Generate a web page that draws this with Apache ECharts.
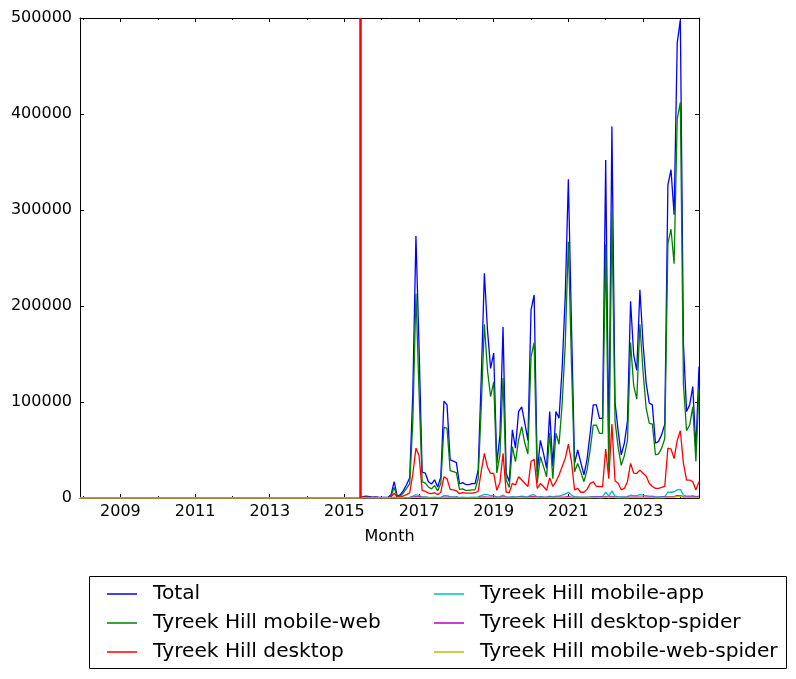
<!DOCTYPE html>
<html>
<head>
<meta charset="utf-8">
<script src="https://cdn.jsdelivr.net/npm/echarts@6/dist/echarts.min.js"></script>
<style>
  html, body { margin: 0; padding: 0; background: #fff; }
  #main { width: 796px; height: 679px; }
</style>
</head>
<body>
<div id="main"></div>
<script>
// months before the pageview series: all zero
var legacyMonths = ['2007-12', '2015-06'];
// pageview months: 2015-07 .. 2024-07
var firstMonth = '2015-07';
var monthCount = 109;
var markerMonth = '2015-06';

var majorYears = [2009, 2011, 2013, 2015, 2017, 2019, 2021, 2023];
var minorYears = [2008, 2010, 2012, 2014, 2016, 2018, 2020, 2022, 2024];
var yTicks = [0, 100000, 200000, 300000, 400000, 500000];

var total = [
  1500, 2000, 1500, 1000, 1200, 800,
  700, 600, 800, 3500, 17000, 1800, 3500, 8000, 14000, 21000, 110000, 273000,
  157000, 27000, 26000, 17000, 14500, 19000, 11500, 22000, 101000, 97000, 39600, 38500,
  36800, 14600, 16000, 14000, 14000, 15000, 15000, 29000, 125000, 234000, 175000, 135000,
  151000, 36000, 65000, 178000, 26000, 17000, 71000, 52000, 90000, 95000, 78000, 60000,
  196000, 211500, 27000, 60000, 46500, 31000, 90000, 33000, 90000, 83000, 135000, 210000,
  332000, 180000, 36000, 50000, 37000, 24000, 40000, 67000, 97000, 97000, 83000, 83000,
  352000, 50000, 387000, 100000, 70000, 45000, 57000, 80000, 205000, 149000, 133000, 217000,
  161500, 120000, 99000, 97000, 57000, 59000, 66000, 77000, 326000, 342000, 295000, 474000,
  498000, 160000, 90000, 97000, 116000, 50000, 137000
];
var mobileWeb = [
  600, 900, 700, 500, 600, 400,
  300, 250, 350, 2000, 11000, 1000, 2200, 5500, 10000, 15000, 80000, 213000,
  110000, 17000, 15500, 11500, 9500, 13000, 7500, 15000, 73600, 72600, 28500, 27500,
  26400, 9000, 9500, 8000, 8000, 8500, 8500, 20000, 95000, 181000, 133000, 105500,
  121000, 26000, 45000, 125000, 18700, 11000, 53500, 37800, 60400, 74300, 57000, 45800,
  147000, 161800, 16000, 43000, 33000, 22000, 68000, 20000, 67400, 56000, 98000, 160000,
  267000, 140000, 27400, 36000, 27000, 17000, 29000, 50000, 76000, 76000, 67400, 67400,
  264000, 27000, 298000, 80000, 53000, 34000, 44000, 60000, 162000, 117000, 103000, 181000,
  132000, 94000, 78000, 77000, 45000, 46000, 52000, 62000, 265000, 280000, 244000, 395000,
  412000, 118000, 70000, 76000, 95000, 38000, 113000
];
var desktop = [
  800, 1000, 700, 450, 550, 350,
  350, 300, 400, 1300, 5000, 700, 1100, 2200, 3500, 5500, 25000, 52000,
  44000, 8000, 7000, 5000, 4500, 5500, 3500, 6000, 22000, 20000, 9000, 8500,
  7500, 4500, 5500, 5000, 5000, 5000, 5500, 7000, 28000, 46500, 32000, 25700,
  25700, 8000, 16000, 46500, 6000, 5500, 15300, 13500, 22200, 18700, 15300, 11800,
  38000, 40300, 10000, 15000, 12000, 8000, 21000, 12000, 17000, 24000, 32600, 41300,
  56000, 38000, 8300, 10000, 6000, 6000, 9000, 15000, 17000, 12000, 12000, 11500,
  51000, 20000, 77000, 18000, 15300, 8500, 10000, 17000, 36000, 26000, 25700, 29000,
  25700, 23000, 15300, 12000, 10000, 10000, 11000, 12000, 52000, 51000, 41000, 60000,
  70000, 36000, 18700, 18700, 17000, 8300, 17000
];
var mobileApp = [
  100, 100, 100, 50, 50, 50,
  50, 50, 50, 100, 600, 100, 150, 300, 400, 700, 2000, 3500,
  2500, 1200, 1200, 800, 700, 800, 600, 900, 2500, 2500, 1500, 1200,
  1200, 700, 800, 700, 700, 800, 800, 1200, 2500, 3800, 3500, 2500,
  2500, 1200, 1500, 3000, 1000, 800, 1500, 1200, 1500, 2000, 1500, 1200,
  3000, 3500, 1000, 1500, 1200, 1000, 2000, 1200, 2000, 2000, 3000, 4000,
  6000, 3000, 1200, 1200, 1000, 1000, 1000, 1200, 1500, 1500, 1500, 1500,
  6000, 2000, 7500, 2000, 1500, 1200, 1200, 1500, 3000, 2500, 2500, 3500,
  3000, 2500, 2000, 2000, 1200, 1200, 1500, 1500, 6000, 6000, 6500, 8500,
  9000, 3000, 2000, 2000, 2500, 1500, 2000
];
var desktopSpider = [
  200, 200, 200, 200, 200, 200,
  200, 200, 200, 300, 500, 300, 300, 300, 400, 500, 800, 1500,
  1200, 600, 500, 400, 400, 400, 400, 400, 800, 800, 500, 500,
  500, 400, 400, 400, 400, 400, 400, 500, 900, 1200, 1000, 800,
  1000, 600, 700, 1200, 600, 500, 700, 600, 800, 800, 700, 600,
  1500, 1500, 700, 800, 700, 600, 900, 700, 900, 900, 1000, 1200,
  1500, 1000, 700, 700, 700, 600, 700, 800, 800, 800, 800, 800,
  1500, 800, 1800, 800, 700, 700, 700, 800, 1000, 900, 900, 1000,
  1000, 900, 800, 800, 700, 700, 800, 800, 1500, 1500, 1500, 2500,
  2500, 1200, 1000, 1000, 1200, 800, 1000
];
var mobileWebSpider = [
  50, 50, 50, 50, 50, 50,
  50, 50, 50, 80, 200, 80, 80, 100, 120, 150, 300, 500,
  400, 150, 150, 120, 100, 120, 100, 120, 250, 250, 150, 150,
  150, 100, 100, 100, 100, 100, 100, 150, 300, 500, 400, 300,
  400, 150, 200, 400, 150, 120, 200, 150, 250, 250, 200, 150,
  500, 500, 150, 200, 150, 150, 250, 150, 250, 250, 300, 400,
  700, 400, 200, 200, 150, 150, 200, 250, 300, 300, 250, 250,
  800, 250, 900, 300, 250, 200, 200, 250, 500, 400, 400, 500,
  500, 400, 300, 300, 200, 200, 250, 300, 1000, 1000, 900, 1500,
  1800, 600, 400, 400, 500, 300, 500
];

// 'YYYY-MM' -> decimal year
function toYear(m) {
  var p = m.split('-');
  return +p[0] + (+p[1] - 1) / 12;
}

var months = [];
(function () {
  var y = +firstMonth.split('-')[0], mo = +firstMonth.split('-')[1];
  for (var i = 0; i < monthCount; i++) {
    months.push(y + '-' + (mo < 10 ? '0' + mo : mo));
    mo++;
    if (mo > 12) { mo = 1; y++; }
  }
})();

function buildData(values) {
  var d = legacyMonths.map(function (m) { return [toYear(m), 0]; });
  months.forEach(function (m, i) { d.push([toYear(m), values[i]]); });
  return d;
}

var FONT = 'DejaVu Sans';
var xMin = toYear(legacyMonths[0]);
var xMax = toYear(months[months.length - 1]);

var seriesDefs = [
  { name: 'Total', color: '#0000ff', values: total },
  { name: 'Tyreek Hill mobile-web', color: '#008000', values: mobileWeb },
  { name: 'Tyreek Hill desktop', color: '#ff0000', values: desktop },
  { name: 'Tyreek Hill mobile-app', color: '#00bfbf', values: mobileApp },
  { name: 'Tyreek Hill desktop-spider', color: '#bf00bf', values: desktopSpider },
  { name: 'Tyreek Hill mobile-web-spider', color: '#bfbf00', values: mobileWebSpider }
];

var series = seriesDefs.map(function (s) {
  return {
    name: s.name,
    type: 'line',
    data: buildData(s.values),
    symbol: 'none',
    showSymbol: false,
    color: s.color,
    lineStyle: { color: s.color, width: 1.3 },
    xAxisIndex: 0,
    yAxisIndex: 0
  };
});
// vertical marker
series[series.length - 1].markLine = {
  silent: true,
  symbol: 'none',
  label: { show: false },
  lineStyle: { color: '#ff0000', width: 2.5, type: 'solid' },
  data: [{ xAxis: toYear(markerMonth) }]
};

function xAxisDef(pos, ticks, len, main) {
  return {
    type: 'value',
    position: pos,
    min: xMin,
    max: xMax,
    gridIndex: 0,
    axisLine: { show: main, onZero: false, lineStyle: { color: '#000', width: 1 } },
    axisTick: { show: true, inside: true, length: len, customValues: ticks, lineStyle: { color: '#000' } },
    axisLabel: { show: false },
    splitLine: { show: false }
  };
}

var xAxes = [
  xAxisDef('bottom', majorYears, 4, true),
  xAxisDef('top', majorYears, 4, true),
  xAxisDef('bottom', minorYears, 2, false),
  xAxisDef('top', minorYears, 2, false)
];
xAxes[0].axisLabel = {
  show: true,
  customValues: majorYears,
  formatter: function (v) { return String(Math.round(v)); },
  color: '#000',
  fontFamily: FONT,
  fontSize: 16,
  margin: 6
};
xAxes[0].name = 'Month';
xAxes[0].nameLocation = 'middle';
xAxes[0].nameGap = 31;
xAxes[0].nameTextStyle = { color: '#000', fontFamily: FONT, fontSize: 16 };

function yAxisDef(pos, labels) {
  return {
    type: 'value',
    position: pos,
    min: yTicks[0],
    max: yTicks[yTicks.length - 1],
    interval: yTicks[1] - yTicks[0],
    axisLine: { show: true, onZero: false, lineStyle: { color: '#000', width: 1 } },
    axisTick: { show: true, inside: true, length: 4, lineStyle: { color: '#000' } },
    axisLabel: {
      show: labels, color: '#000', fontFamily: FONT, fontSize: 16, margin: 8,
      formatter: function (v) { return String(v); }
    },
    splitLine: { show: false }
  };
}

var legendText = { color: '#000', fontFamily: FONT, fontSize: 20.2, lineHeight: 20, padding: [0, 0, 0, 11] };

var option = {
  animation: false,
  backgroundColor: '#fff',
  grid: { left: 80, right: 97, top: 18, bottom: 181, containLabel: false },
  xAxis: xAxes,
  yAxis: [yAxisDef('left', true), yAxisDef('right', false)],
  legend: [
    {
      orient: 'vertical', left: 102, top: 579,
      data: seriesDefs.slice(0, 3).map(function (s) { return s.name; }),
      icon: 'rect', itemWidth: 30, itemHeight: 1.5, itemGap: 9,
      textStyle: legendText, selectedMode: false
    },
    {
      orient: 'vertical', left: 429, top: 579,
      data: seriesDefs.slice(3).map(function (s) { return s.name; }),
      icon: 'rect', itemWidth: 30, itemHeight: 1.5, itemGap: 9,
      textStyle: legendText, selectedMode: false
    }
  ],
  graphic: [{
    type: 'rect',
    shape: { x: 89.5, y: 576.5, width: 697, height: 92 },
    style: { fill: 'none', stroke: '#000', lineWidth: 1 },
    silent: true
  }],
  series: series
};

var chart = echarts.init(document.getElementById('main'), null, { renderer: 'canvas' });
chart.setOption(option);
</script>
</body>
</html>
